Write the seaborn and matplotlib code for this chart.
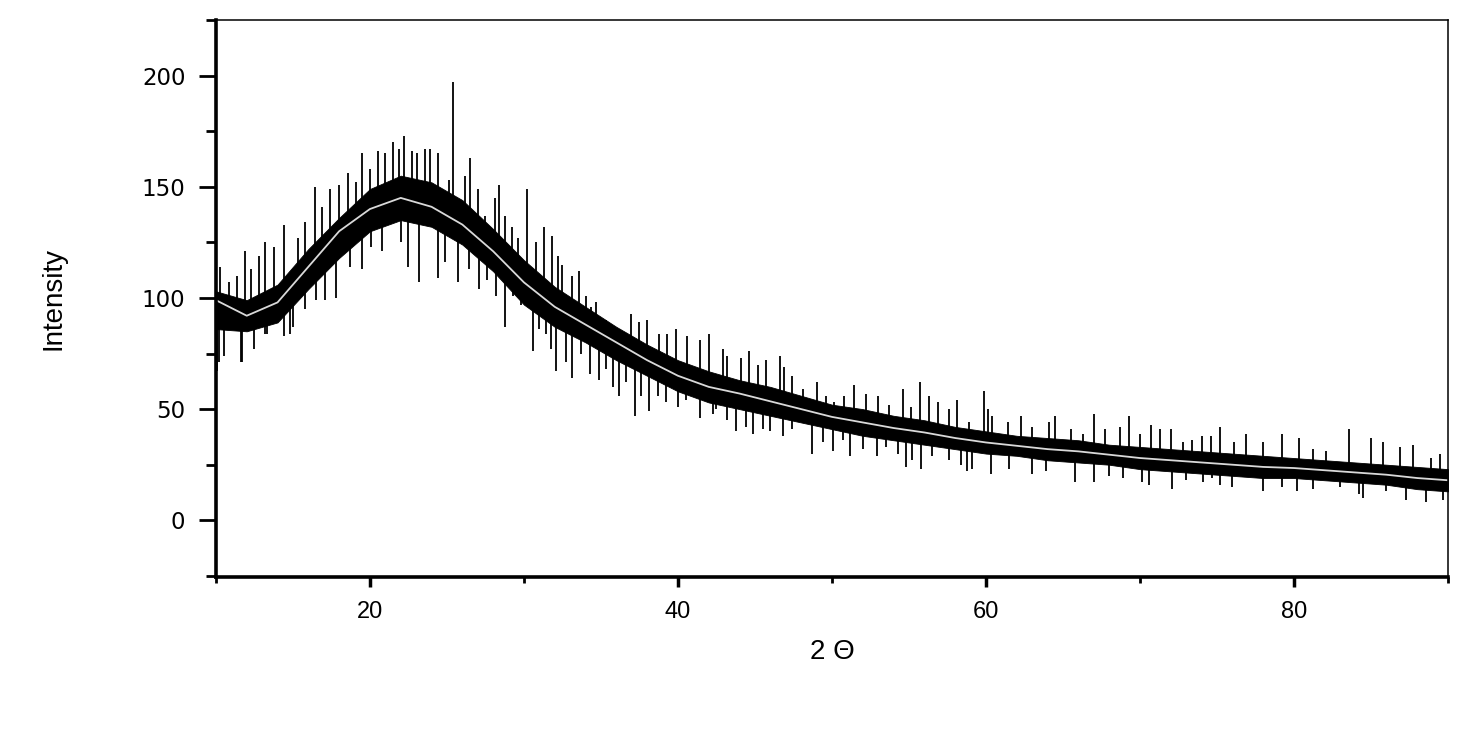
import numpy as np
import matplotlib
matplotlib.use("Agg")
import matplotlib.pyplot as plt
import seaborn as sns
from matplotlib.ticker import MultipleLocator

# 2-theta grid (2 degree steps) with the smooth fit and the dense core of the noise band
two_theta = [10, 12, 14, 16, 18, 20, 22, 24, 26, 28, 30, 32, 34, 36, 38, 40, 42, 44, 46, 48, 50,
             52, 54, 56, 58, 60, 62, 64, 66, 68, 70, 72, 74, 76, 78, 80, 82, 84, 86, 88, 90]
fit = [99, 92, 98, 114, 130, 140, 145, 141, 133, 121, 107, 96, 88, 80, 72, 65, 60, 57, 53.5, 50, 46.5,
       44, 41.5, 39.5, 37, 35, 33.5, 32, 31, 29.5, 28, 27, 26, 25, 24, 23.5, 22.5, 21.5, 20.5, 19, 18]
band_hi = [103, 99, 106, 122, 136, 149, 155, 152, 144, 131, 117, 105, 96, 87, 79, 72, 67, 63, 60, 56, 52,
           50, 47, 45, 42, 40, 38, 37, 36, 34, 33, 32, 31, 30, 29, 28, 27, 26, 25, 24, 23]
band_lo = [86, 85, 89, 104, 118, 130, 135, 132, 124, 112, 97, 87, 80, 72, 65, 58, 53, 50, 47, 44, 41,
           38, 36, 34, 32, 30, 29, 27, 26, 25, 23, 22, 21, 20, 19, 19, 18, 17, 16, 14, 13]

# single noise strokes (position, intensity)
spike_x = [10.26, 10.87, 11.4, 11.9, 12.27, 12.8, 13.2, 13.8, 14.4, 15.3, 15.8, 16.4, 16.9, 17.4, 18.0,
           18.6, 19.1, 19.5, 20.0, 20.5, 21.0, 21.5, 21.9, 22.2, 22.7, 23.05, 23.6, 23.9, 24.4, 25.15,
           25.37, 26.2,
           10.1, 10.2, 10.5, 11.6, 11.7, 12.5, 13.2, 13.3, 14.4, 14.8, 15.0, 15.8, 16.5, 17.1, 17.8,
           18.7, 19.5, 20.1, 20.8, 22.0, 22.5, 23.2, 24.4, 24.9, 25.7,
           26.5, 27.0, 27.5, 28.1, 28.4, 28.8, 29.2, 29.6, 30.2, 30.8, 31.3, 31.8, 32.2, 32.5, 33.1,
           33.6, 34.0, 34.35, 34.7, 35.3, 36.1, 36.95, 37.5, 38.0, 38.8, 39.3, 39.9, 40.6, 41.4, 42.0,
           26.45, 27.1, 27.6, 28.2, 28.8, 29.3, 29.8, 30.6, 31.0, 31.4, 31.75, 32.1, 32.7, 33.1, 33.7,
           34.3, 34.9, 35.3, 35.8, 36.2, 36.6, 37.2, 37.6, 38.1, 38.7, 39.2, 40.0, 40.5, 41.4, 42.25,
           42.9, 43.2, 44.1, 44.6, 45.2, 45.7, 46.6, 46.9, 47.4, 48.1, 49.0, 49.6, 50.15, 50.8, 51.45,
           52.2, 53.0, 53.7, 54.6, 55.1, 55.7, 56.3, 56.9, 57.6, 58.1,
           42.5, 43.2, 43.8, 44.4, 44.85, 45.5, 46.0, 46.8, 47.4, 48.7, 49.4, 50.05, 50.7, 51.2, 52.0,
           52.9, 53.5, 54.3, 54.8, 55.2, 55.8, 56.5, 57.6, 58.4,
           58.9, 59.9, 60.1, 60.4, 61.4, 62.3, 63.0, 64.1, 64.5, 65.5, 66.3, 67.0, 67.7, 68.7, 69.3,
           70.0, 70.7, 71.3, 72.0, 72.8, 73.4, 74.0, 74.6,
           58.8, 59.1, 60.3, 61.5, 63.0, 63.9, 65.8, 67.0, 68.0, 68.9, 70.1, 70.6, 72.1, 73.0, 74.1,
           74.7,
           75.2, 76.1, 76.9, 78.0, 79.2, 80.3, 81.25, 82.1, 83.6, 85.0, 85.8, 86.9, 87.7, 88.9, 89.5,
           75.2, 76.0, 78.0, 79.2, 80.2, 81.25, 83.0, 84.2, 84.5, 86.0, 87.3, 88.6, 89.7]
spike_y = [114, 107, 110, 121, 113, 119, 125, 123, 133, 127, 134, 150, 141, 149, 151,
           156, 152, 165, 158, 166, 165, 170, 167, 173, 166, 165, 167, 167, 165, 153,
           197, 155,
           67, 71, 74, 71, 71, 77, 84, 84, 83, 84, 87, 95, 99, 99, 100,
           114, 113, 123, 121, 125, 114, 107, 109, 116, 107,
           163, 149, 137, 145, 151, 137, 132, 127, 149, 125, 132, 128, 119, 115, 110,
           112, 101, 96, 98, 90, 86, 93, 89, 90, 84, 84, 86, 83, 81, 84,
           113, 104, 108, 101, 87, 101, 97, 76, 86, 84, 77, 67, 71, 64, 75,
           66, 63, 68, 60, 56, 62, 47, 56, 49, 56, 53, 51, 54, 46, 48,
           77, 74, 73, 76, 70, 72, 74, 69, 65, 59, 62, 56, 53, 56, 61,
           57, 56, 52, 59, 51, 62, 56, 53, 50, 54,
           50, 45, 40, 42, 39, 41, 40, 38, 41, 30, 35, 31, 36, 29, 32,
           29, 33, 30, 24, 27, 23, 29, 27, 25,
           44, 58, 50, 47, 44, 47, 42, 44, 47, 41, 39, 48, 41, 42, 47,
           39, 43, 41, 41, 35, 36, 38, 38,
           22, 23, 21, 23, 21, 22, 17, 17, 20, 19, 17, 16, 14, 18, 17,
           19,
           42, 35, 39, 35, 39, 37, 32, 31, 41, 37, 35, 33, 34, 28, 30,
           16, 15, 13, 15, 13, 14, 15, 12, 10, 13, 9, 8, 9]

sns.set_style("ticks")
plt.rcParams['font.family'] = ['Liberation Sans', 'DejaVu Sans']
plt.rcParams['text.color'] = 'black'
plt.rcParams['axes.labelcolor'] = 'black'
plt.rcParams['xtick.color'] = 'black'
plt.rcParams['ytick.color'] = 'black'
plt.rcParams['axes.edgecolor'] = 'black'

fig = plt.figure(figsize=(14.78, 7.56), dpi=100)
ax = fig.add_axes([0.1461, 0.2368, 0.8336, 0.7367])

# noisy pattern: dense core + individual strokes
ax.fill_between(two_theta, band_lo, band_hi, color='black', lw=0.6, edgecolor='black')
base = np.interp(spike_x, two_theta, fit)
ax.vlines(spike_x, base, spike_y, color='black', lw=1.3)

# smooth fit
sns.lineplot(x=two_theta, y=fit, ax=ax, color='#d9d9d9', lw=1.3)

ax.set_xlim(10, 90)
ax.set_ylim(-25.5, 225)
ax.xaxis.set_major_locator(MultipleLocator(20))
ax.xaxis.set_minor_locator(MultipleLocator(10))
ax.set_yticks([0, 50, 100, 150, 200])
ax.yaxis.set_minor_locator(MultipleLocator(25))

for side in ['left', 'bottom']:
    ax.spines[side].set_linewidth(2.6)
for side in ['top', 'right']:
    ax.spines[side].set_linewidth(1.1)
    ax.spines[side].set_visible(True)

ax.tick_params(axis='x', which='major', length=7, width=2.5, pad=10, labelsize=17)
ax.tick_params(axis='x', which='minor', length=4, width=2.0)
ax.tick_params(axis='y', which='major', length=12, width=2.0, pad=10, labelsize=16.5)
ax.tick_params(axis='y', which='minor', length=7, width=2.0)
for lbl in ax.get_yticklabels():
    lbl.set_family('DejaVu Sans')

ax.set_xlabel('2 Θ', fontsize=20, labelpad=12)
ax.set_ylabel('Intensity', fontsize=20, labelpad=54)

fig.savefig('out.png', dpi=100)
